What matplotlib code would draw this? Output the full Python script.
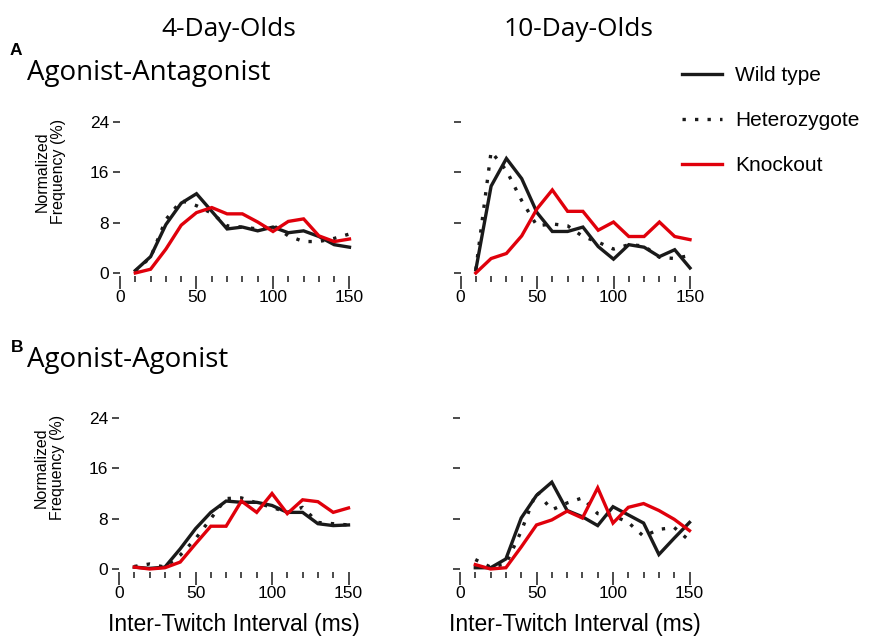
import matplotlib
matplotlib.use("Agg")
import matplotlib.pyplot as plt
from matplotlib.lines import Line2D

plt.rcParams["font.family"] = ["Liberation Sans", "DejaVu Sans"]

interval_ms = [10, 20, 30, 40, 50, 60, 70, 80, 90, 100, 110, 120, 130, 140, 150]

# A: agonist-antagonist
aa_day4_wild = [0.4, 2.6, 7.7, 11.1, 12.6, 9.8, 7.0, 7.3, 6.7, 7.3, 6.4, 6.7, 5.8, 4.5, 4.1]
aa_day4_het = [0.3, 2.5, 8.5, 11.5, 10.7, 9.5, 7.5, 7.3, 7.0, 7.6, 5.9, 5.0, 5.0, 5.5, 6.2]
aa_day4_ko = [0.0, 0.6, 3.8, 7.6, 9.6, 10.4, 9.4, 9.4, 8.1, 6.6, 8.2, 8.6, 5.9, 5.0, 5.4]

aa_day10_wild = [0.5, 13.8, 18.2, 15.0, 9.6, 6.6, 6.6, 7.3, 4.2, 2.2, 4.5, 4.1, 2.6, 3.7, 0.8]
aa_day10_het = [0.5, 19.3, 16.3, 11.5, 7.5, 7.8, 7.5, 5.8, 4.9, 3.8, 4.5, 4.3, 2.5, 2.3, 2.8]
aa_day10_ko = [0.0, 2.3, 3.1, 5.9, 10.2, 13.2, 9.8, 9.8, 6.8, 8.1, 5.8, 5.8, 8.1, 5.8, 5.3]

# B: agonist-agonist
ag_day4_wild = [0.3, 0.1, 0.3, 3.2, 6.4, 9.0, 10.8, 10.6, 10.6, 10.1, 9.0, 9.0, 7.2, 6.9, 7.0]
ag_day4_het = [0.4, 0.8, 0.3, 2.2, 4.8, 8.0, 11.2, 11.3, 10.5, 9.8, 9.0, 9.8, 7.4, 7.2, 7.0]
ag_day4_ko = [0.3, 0.0, 0.2, 1.1, 4.0, 6.8, 6.8, 10.8, 9.0, 12.0, 8.8, 11.0, 10.7, 9.0, 9.7]

ag_day10_wild = [0.2, 0.2, 1.6, 8.1, 11.7, 13.8, 9.3, 8.3, 6.9, 9.9, 8.6, 7.3, 2.3, 4.9, 7.4]
ag_day10_het = [1.5, 0.3, 0.8, 6.0, 12.3, 9.4, 10.5, 11.3, 8.8, 8.5, 7.4, 5.2, 6.3, 6.6, 4.5]
ag_day10_ko = [0.7, 0.0, 0.2, 3.5, 7.0, 7.8, 9.2, 8.1, 12.9, 7.3, 9.8, 10.4, 9.3, 7.9, 6.1]

y_ticks = [0, 8, 16, 24]
x_major = [0, 50, 100, 150]
x_minor = [10, 20, 30, 40, 60, 70, 80, 90, 110, 120, 130, 140]

BLACK = "#1a1a1a"
RED = "#e0000b"
LW = 2.4
DOTS = (0, (1, 2.75))
TITLE_FONT = ["Open Sans", "DejaVu Sans"]

W, H = 869, 638
fig = plt.figure(figsize=(W / 100, H / 100), dpi=100)


def make_axes(x0, y0_px, show_ylabels, show_xlabel):
    # x0: pixel of x=0, y0_px: pixel (from top) of y=0
    width = 229.5
    height = 151
    ax = fig.add_axes([x0 / W, (H - y0_px) / H, width / W, height / H])
    ax.set_xlim(0, 150)
    ax.set_ylim(0, 24)
    for s in ax.spines.values():
        s.set_visible(False)
    ax.set_xticks(x_major)
    ax.set_xticks(x_minor, minor=True)
    ax.set_yticks(y_ticks)
    ax.tick_params(axis="x", which="major", length=9, width=1.1, color=BLACK,
                   labelsize=12.5, pad=1, direction="out")
    ax.tick_params(axis="x", which="minor", length=4.5, width=1.1, color=BLACK,
                   direction="out")
    ax.tick_params(axis="y", length=5, width=1.1, color=BLACK, labelsize=12.5,
                   pad=3, direction="out", labelleft=show_ylabels)
    ax.spines["bottom"].set_position(("outward", 2))
    if show_ylabels:
        ax.set_ylabel("Normalized\nFrequency (%)", fontsize=11.5, linespacing=1.1)
        ax.yaxis.set_label_coords(-0.235, 0.67)
    if show_xlabel:
        ax.set_xlabel("Inter-Twitch Interval (ms)", fontsize=16.5, labelpad=9)
    return ax


def draw(ax, wild, het, ko):
    ax.plot(interval_ms, wild, color=BLACK, lw=LW, clip_on=False,
            solid_joinstyle="miter", zorder=3)
    ax.plot(interval_ms, het, color=BLACK, lw=LW, linestyle=DOTS,
            dash_capstyle="butt", clip_on=False, zorder=2)
    ax.plot(interval_ms, ko, color=RED, lw=LW, clip_on=False,
            solid_joinstyle="miter", zorder=4)


ax1 = make_axes(120, 273, True, False)
draw(ax1, aa_day4_wild, aa_day4_het, aa_day4_ko)
ax2 = make_axes(460.5, 273, False, False)
draw(ax2, aa_day10_wild, aa_day10_het, aa_day10_ko)
ax3 = make_axes(119, 569, True, True)
draw(ax3, ag_day4_wild, ag_day4_het, ag_day4_ko)
ax4 = make_axes(460, 569, False, True)
draw(ax4, ag_day10_wild, ag_day10_het, ag_day10_ko)

fig.text(229 / W, 1 - 36 / H, "4-Day-Olds", fontsize=19, ha="center",
         va="baseline", family=TITLE_FONT)
fig.text(578 / W, 1 - 36 / H, "10-Day-Olds", fontsize=19, ha="center",
         va="baseline", family=TITLE_FONT)
fig.text(10 / W, 1 - 55 / H, "A", fontsize=12.5, fontweight="bold", va="baseline")
fig.text(11 / W, 1 - 352 / H, "B", fontsize=12.5, fontweight="bold", va="baseline")
fig.text(27 / W, 1 - 80 / H, "Agonist-Antagonist", fontsize=20, va="baseline",
         family=TITLE_FONT)
fig.text(27 / W, 1 - 367 / H, "Agonist-Agonist", fontsize=20, va="baseline",
         family=TITLE_FONT)

handles = [
    Line2D([], [], color=BLACK, lw=LW),
    Line2D([], [], color=BLACK, lw=LW, linestyle=DOTS, dash_capstyle="butt"),
    Line2D([], [], color=RED, lw=LW),
]
fig.legend(handles, ["Wild type", "Heterozygote", "Knockout"],
           loc="upper left", bbox_to_anchor=(682 / W, 1 - 66 / H), frameon=False,
           fontsize=15, handlelength=1.9, handletextpad=0.65, labelspacing=1.25,
           borderaxespad=0, borderpad=0)

fig.savefig("out.png", dpi=100)
